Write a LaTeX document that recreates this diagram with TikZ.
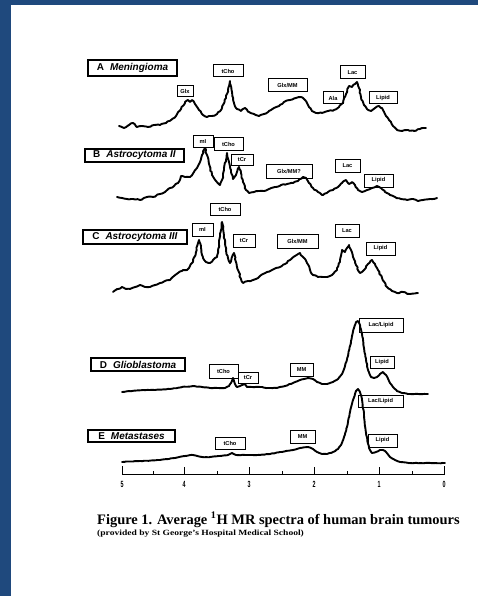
\documentclass[tikz,border=0pt]{standalone}
\usepackage{fontspec}
\setmainfont{Liberation Serif}
\setsansfont{Liberation Sans}
\usetikzlibrary{decorations.pathmorphing}
\definecolor{frameblue}{HTML}{1F497D}
\begin{document}
\begin{tikzpicture}[x=1bp,y=-1bp,
  spec/.style={line width=1.9bp, line join=round, line cap=round},
  noisy/.style={decorate, decoration={random steps, segment length=2.2bp, amplitude=0.6bp}},
  calm/.style={decorate, decoration={random steps, segment length=2.2bp, amplitude=0.3bp}},
  lbl/.style={draw, line width=1bp, inner sep=0pt, font=\sffamily\bfseries\fontsize{5.7}{5.7}\selectfont},
  ttl/.style={draw, line width=1.3bp, inner sep=0pt, font=\sffamily\bfseries\fontsize{10}{10}\selectfont},
  axis/.style={line width=1bp},
  digit/.style={font=\sffamily\bfseries\fontsize{9}{9}\selectfont, xscale=0.6, inner sep=0pt},
]
\pgfmathsetseed{7}
\useasboundingbox (0,0) rectangle (478,596);
\fill[white] (0,0) rectangle (478,596);
\fill[frameblue] (0,0) rectangle (478,5);
\fill[frameblue] (0,0) rectangle (11,596);

% ---------- A ----------
\node[ttl, minimum width=89bp, minimum height=16bp] (tA) at (132.5,68) {A\hspace{0.6em}\textit{Meningioma}};
\node[lbl, minimum width=16bp, minimum height=11bp] (aGlx) at (185,91.5) {Glx};
\node[lbl, minimum width=30bp, minimum height=12bp] (aCho) at (228,71) {tCho};
\node[lbl, minimum width=39bp, minimum height=13bp] (aGM) at (287.5,85.5) {Glx/MM};
\node[lbl, minimum width=20bp, minimum height=12bp] (aAla) at (333,98) {Ala};
\node[lbl, minimum width=25bp, minimum height=13bp] (aLac) at (352.5,72.5) {Lac};
\node[lbl, minimum width=28bp, minimum height=12bp] (aLip) at (383,98) {Lipid};
\draw[spec, noisy] plot coordinates {
(119,126) (124,128) (129,125) (133,123) (137,127) (142,126) (148,127) (154,125) (160,125) (166,123) (171,120) (176,116) (181,109) (185,102) (188,100) (190,102) (192,100) (195,104) (199,110) (203,115) (207,117) (212,116) (217,114) (222,108) (226,98) (228,90) (230,81) (232,92) (234,103) (237,109) (241,111) (245,108) (249,112) (254,114) (259,116) (264,114) (269,111) (274,108) (279,106) (284,102) (290,100) (296,98) (301,97) (305,100) (308,105) (312,111) (316,113) (322,113) (328,111) (334,110) (339,107) (343,103) (346,94) (349,86) (352,87) (355,84) (357,82) (359,88) (361,97) (364,105) (367,109) (371,111) (375,108) (379,106) (382,108) (385,114) (389,120) (393,126) (397,130) (402,131) (408,130) (414,131) (420,129) (426,128)};

% ---------- B ----------
\node[ttl, minimum width=99bp, minimum height=13bp] (tB) at (134.5,155.5) {B\hspace{0.6em}\textit{Astrocytoma II}};
\node[lbl, minimum width=20bp, minimum height=12bp] (bmI) at (203,142) {mI};
\node[lbl, minimum width=29bp, minimum height=13bp] (bCho) at (228.5,144.5) {tCho};
\node[lbl, minimum width=22bp, minimum height=10bp] (bCr) at (242,160) {tCr};
\node[lbl, minimum width=46bp, minimum height=13bp] (bGM) at (289,171.5) {Glx/MM?};
\node[lbl, minimum width=25bp, minimum height=12bp] (bLac) at (347.5,166) {Lac};
\node[lbl, minimum width=29bp, minimum height=13bp] (bLip) at (378.5,180.5) {Lipid};
\draw[spec, noisy] plot coordinates {
(117,197) (122,198) (127,199) (133,199) (140,200) (147,197) (153,197) (160,194) (165,192) (170,188) (174,186) (178,183) (181,176) (185,177) (190,177) (194,172) (197,168) (200,162) (202,155) (205,148) (207,155) (209,164) (212,175) (216,181) (220,185) (222,180) (224,170) (226,160) (227,153) (229,162) (231,172) (233,179) (236,175) (239,167) (241,173) (243,182) (246,190) (249,193) (254,192) (259,191) (264,191) (269,189) (275,187) (281,185) (287,184) (293,183) (298,181) (303,177) (306,178) (309,183) (313,188) (318,192) (323,195) (328,192) (333,190) (338,187) (342,183) (346,180) (349,184) (352,182) (355,185) (358,190) (362,192) (367,190) (372,188) (377,186) (381,188) (385,192) (390,195) (395,197) (401,199) (407,200) (413,199) (418,201) (423,200) (430,199) (437,198)};

% ---------- C ----------
\node[ttl, minimum width=104bp, minimum height=14bp] (tC) at (135,237) {C\hspace{0.6em}\textit{Astrocytoma III}};
\node[lbl, minimum width=21bp, minimum height=13bp] (cmI) at (202.5,229.5) {mI};
\node[lbl, minimum width=30bp, minimum height=12bp] (cCho) at (225,209) {tCho};
\node[lbl, minimum width=22bp, minimum height=13bp] (cCr) at (244,240.5) {tCr};
\node[lbl, minimum width=41bp, minimum height=14bp] (cGM) at (297.5,241) {Glx/MM};
\node[lbl, minimum width=24bp, minimum height=13bp] (cLac) at (347,230.5) {Lac};
\node[lbl, minimum width=29bp, minimum height=13bp] (cLip) at (380.5,248.5) {Lipid};
\draw[spec, noisy] plot coordinates {
(113,292) (118,289) (122,287) (126,289) (130,289) (135,287) (140,285) (145,287) (150,287) (155,285) (160,283) (165,281) (170,280) (174,276) (178,273) (183,270) (187,270) (190,266) (193,262) (196,252) (198,243) (199,240) (201,248) (203,258) (206,262) (210,263) (213,260) (217,257) (219,245) (221,230) (222,222) (224,235) (226,250) (228,258) (230,263) (232,257) (234,253) (236,262) (238,270) (241,279) (243,283) (248,281) (253,280) (258,278) (263,274) (267,272) (272,270) (276,268) (280,267) (285,264) (290,260) (295,256) (300,253) (303,257) (307,263) (310,270) (313,275) (318,277) (323,277) (327,277) (332,275) (337,270) (340,260) (342,250) (345,252) (347,248) (349,245) (351,250) (353,257) (356,265) (360,273) (364,270) (368,264) (372,260) (375,264) (378,270) (382,278) (387,287) (392,291) (397,293) (403,292) (410,294) (418,293)};

% ---------- D ----------
\node[ttl, minimum width=94bp, minimum height=13bp] (tD) at (138,364.5) {D\hspace{0.6em}\textit{Glioblastoma}};
\node[lbl, minimum width=29bp, minimum height=14bp] (dCho) at (223.5,371) {tCho};
\node[lbl, minimum width=20bp, minimum height=11bp] (dCr) at (248,377.5) {tCr};
\node[lbl, minimum width=23bp, minimum height=13bp] (dMM) at (301.5,369.5) {MM};
\node[lbl, minimum width=44bp, minimum height=14bp] (dLL) at (381,325) {Lac/Lipid};
\node[lbl, minimum width=24bp, minimum height=12bp] (dLip) at (382,362) {Lipid};
\draw[spec, calm] plot coordinates {
(122,392) (132,391) (143,390) (155,390) (170,389) (182,387) (193,386) (202,387) (210,388) (218,388) (225,388) (229,386) (231,383) (233,378) (235,384) (237,387) (240,386) (242,385) (245,384) (247,387) (252,387) (260,387) (268,388) (277,388) (285,386) (293,383) (300,380) (308,378) (313,379) (317,382) (322,384) (327,384) (333,382) (338,379) (342,374) (345,366) (348,356) (351,341) (354,328) (356,322) (358,321) (360,325) (362,334) (364,348) (366,360) (368,370) (371,377) (374,378) (377,377) (380,374) (383,372) (386,375) (389,381) (393,387) (397,391) (402,393) (408,394) (418,394) (428,394)};

% ---------- E ----------
\node[ttl, minimum width=87bp, minimum height=12bp] (tE) at (131.5,436) {E\hspace{0.6em}\textit{Metastases}};
\node[lbl, minimum width=30bp, minimum height=12bp] (eCho) at (230,443) {tCho};
\node[lbl, minimum width=25bp, minimum height=13bp] (eMM) at (302.5,436.5) {MM};
\node[lbl, minimum width=45bp, minimum height=12bp] (eLL) at (380.5,401) {Lac/Lipid};
\node[lbl, minimum width=29bp, minimum height=13bp] (eLip) at (382.5,440.5) {Lipid};
\draw[spec, calm] plot coordinates {
(122,462) (140,461) (160,460) (175,458) (185,456) (193,455) (202,457) (210,457) (220,456) (228,455) (232,453) (236,455) (245,455) (252,455) (260,455) (270,454) (280,452) (293,450) (300,448) (308,447) (313,449) (317,452) (322,454) (327,454) (333,452) (338,449) (341,445) (344,437) (347,427) (350,412) (353,400) (356,391) (358,389) (360,392) (362,400) (364,415) (366,433) (369,448) (372,453) (376,452) (380,450) (383,450) (386,452) (390,457) (395,460) (400,462) (410,463) (425,463) (445,463)};

% ---------- axis ----------
\coordinate (axL) at (122,474);
\coordinate (axR) at (444,474);
\draw[axis] ([yshift=8bp]axL) -- (axL) -- (axR) -- ([yshift=8bp]axR);
\foreach \x in {184,249,314,379} \draw[axis] (\x,474) -- (\x,467);
\foreach \x in {153,217,282,347,412} \draw[axis] (\x,474) -- (\x,471);
\foreach \x/\d in {122/5,184/4,249/3,314/2,379/1,444/0}
  \node[digit] (n\d) at (\x,484) {\d};

% ---------- caption ----------
\node[anchor=base west, inner sep=0pt, font=\bfseries\fontsize{14.5}{14.5}\selectfont] (cap1) at (97,524)
  {Figure 1. Average $^{\mathbf{1}}$H MR spectra of human brain tumours};
\node[anchor=base west, inner sep=0pt, xscale=1.2, font=\bfseries\fontsize{8}{8}\selectfont] (cap2) at (97,535)
  {(provided by St George's Hospital Medical School)};
\end{tikzpicture}
\end{document}
